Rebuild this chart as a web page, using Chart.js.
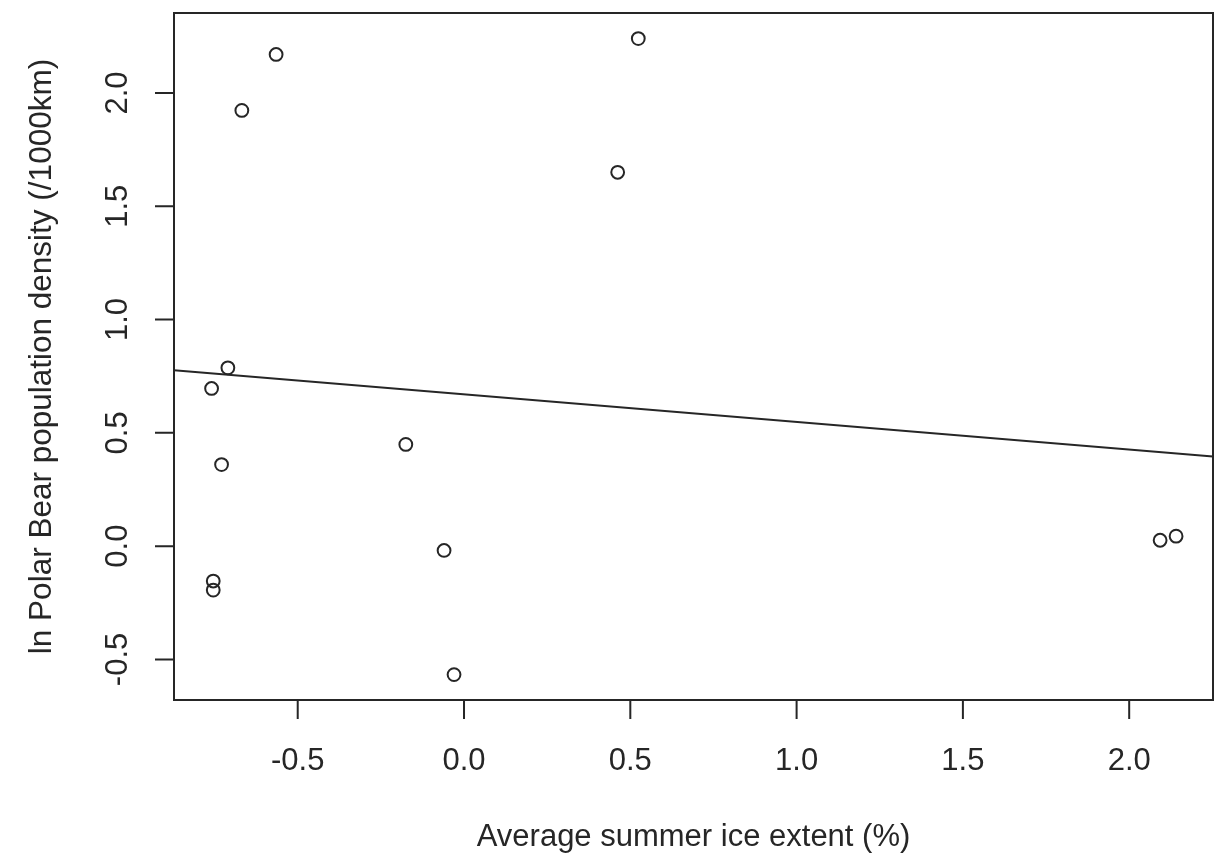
<!DOCTYPE html>
<html>
<head>
<meta charset="utf-8">
<script src="https://cdn.jsdelivr.net/npm/chart.js@4/dist/chart.umd.min.js"></script>
<style>
  html, body { margin: 0; padding: 0; background: #fff; }
  #wrap { width: 1218px; height: 859px; }
</style>
</head>
<body>
<div id="wrap"><canvas id="c" width="1218" height="859"></canvas></div>
<script>
// ---- data ----
const iceExtent = [-0.565, -0.668, 0.524, 0.462, -0.710, -0.759, -0.729, -0.175, -0.060, -0.754, -0.754, -0.030, 2.093, 2.141];
const bearDensity = [2.170, 1.923, 2.240, 1.650, 0.787, 0.696, 0.360, 0.449, -0.019, -0.154, -0.194, -0.567, 0.026, 0.044];
const fitX = [-0.872, 2.252];
const fitY = [0.776, 0.396];
const xTicks = [-0.5, 0.0, 0.5, 1.0, 1.5, 2.0];
const yTicks = [-0.5, 0.0, 0.5, 1.0, 1.5, 2.0];
const xTickLabels = ["-0.5", "0.0", "0.5", "1.0", "1.5", "2.0"];
const yTickLabels = ["-0.5", "0.0", "0.5", "1.0", "1.5", "2.0"];
const xRange = [-0.872, 2.252];
const yRange = [-0.679, 2.353];
const xTitle = "Average summer ice extent (%)";
const yTitle = "ln Polar Bear population density (/1000km)";

const ink = "#262626";
const FONT = '31px "Liberation Sans", Arial, sans-serif';

const points = iceExtent.map((x, i) => ({ x: x, y: bearDensity[i] }));
const fitLine = fitX.map((x, i) => ({ x: x, y: fitY[i] }));

const rAxes = {
  id: 'rAxes',
  beforeDraw(chart) {
    const ctx = chart.ctx;
    ctx.save();
    ctx.fillStyle = '#fff';
    ctx.fillRect(0, 0, chart.width, chart.height);
    ctx.restore();
  },
  afterDatasetsDraw(chart) {
    const ctx = chart.ctx;
    const a = chart.chartArea;
    const xs = chart.scales.x, ys = chart.scales.y;
    ctx.save();
    ctx.strokeStyle = ink;
    ctx.fillStyle = ink;
    ctx.lineWidth = 2;
    // box
    ctx.strokeRect(a.left, a.top, a.right - a.left, a.bottom - a.top);
    // x axis
    ctx.beginPath();
    const x0 = xs.getPixelForValue(xTicks[0]);
    const x1 = xs.getPixelForValue(xTicks[xTicks.length - 1]);
    ctx.moveTo(x0, a.bottom); ctx.lineTo(x1, a.bottom);
    xTicks.forEach(v => {
      const px = xs.getPixelForValue(v);
      ctx.moveTo(px, a.bottom); ctx.lineTo(px, a.bottom + 19);
    });
    ctx.stroke();
    ctx.font = FONT;
    ctx.textAlign = 'center';
    ctx.textBaseline = 'alphabetic';
    xTicks.forEach((v, i) => {
      ctx.fillText(xTickLabels[i], xs.getPixelForValue(v), 770);
    });
    ctx.fillText(xTitle, (a.left + a.right) / 2, 846);
    // y axis
    ctx.beginPath();
    const y0 = ys.getPixelForValue(yTicks[0]);
    const y1 = ys.getPixelForValue(yTicks[yTicks.length - 1]);
    ctx.moveTo(a.left, y0); ctx.lineTo(a.left, y1);
    yTicks.forEach(v => {
      const py = ys.getPixelForValue(v);
      ctx.moveTo(a.left, py); ctx.lineTo(a.left - 19, py);
    });
    ctx.stroke();
    yTicks.forEach((v, i) => {
      ctx.save();
      ctx.translate(127, ys.getPixelForValue(v));
      ctx.rotate(-Math.PI / 2);
      ctx.fillText(yTickLabels[i], 0, 0);
      ctx.restore();
    });
    ctx.save();
    ctx.translate(50.5, (a.top + a.bottom) / 2);
    ctx.rotate(-Math.PI / 2);
    ctx.font = '31.5px "Liberation Sans", Arial, sans-serif';
    ctx.fillText(yTitle, 0, 0);
    ctx.restore();
    ctx.restore();
  }
};

new Chart(document.getElementById('c'), {
  type: 'scatter',
  data: {
    datasets: [
      {
        label: 'data',
        data: points,
        showLine: false,
        pointStyle: 'circle',
        pointRadius: 6.4,
        pointHoverRadius: 6.4,
        borderWidth: 2,
        borderColor: ink,
        backgroundColor: 'rgba(0,0,0,0)'
      },
      {
        label: 'fit',
        type: 'line',
        data: fitLine,
        showLine: true,
        pointRadius: 0,
        borderWidth: 2,
        borderColor: ink,
        fill: false,
        tension: 0
      }
    ]
  },
  options: {
    responsive: false,
    animation: false,
    devicePixelRatio: 1,
    layout: { autoPadding: false, padding: { left: 174, right: 5, top: 13, bottom: 159 } },
    plugins: { legend: { display: false }, tooltip: { enabled: false } },
    events: [],
    scales: {
      x: { type: 'linear', min: xRange[0], max: xRange[1], display: false },
      y: { type: 'linear', min: yRange[0], max: yRange[1], display: false }
    }
  },
  plugins: [rAxes]
});
</script>
</body>
</html>
